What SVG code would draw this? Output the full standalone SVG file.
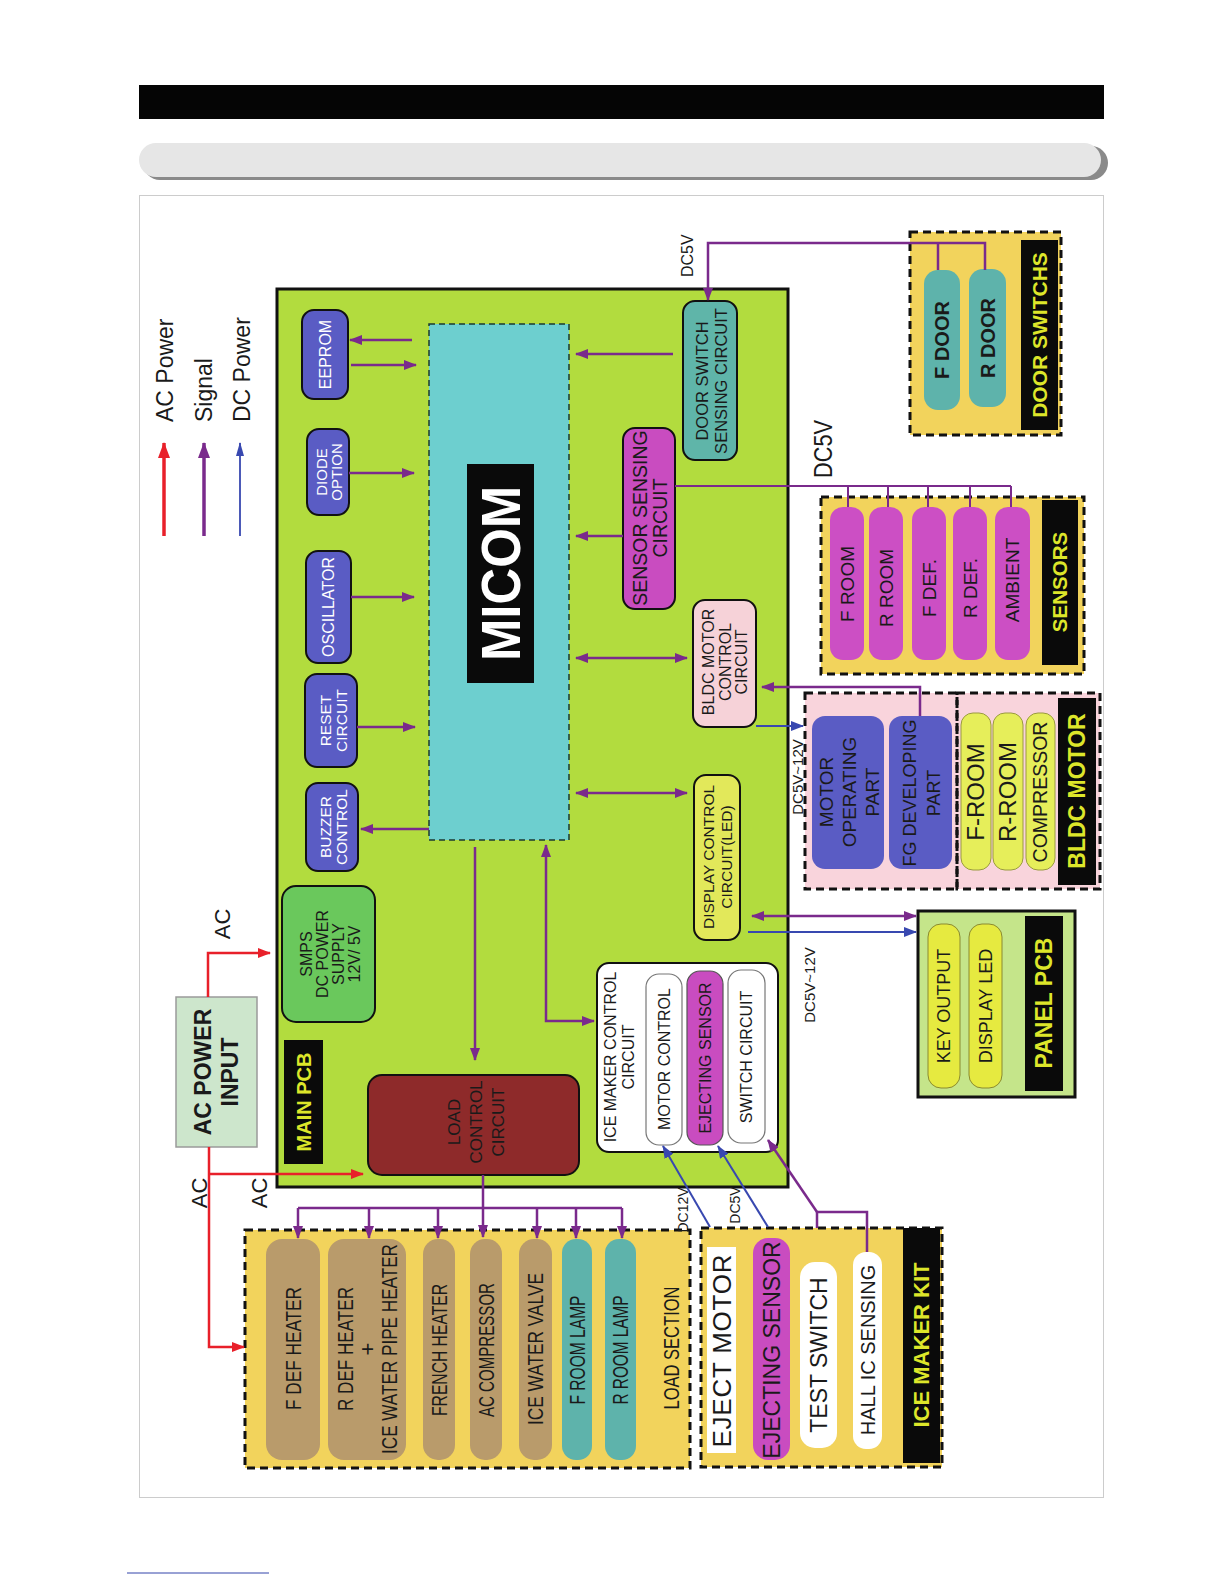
<svg xmlns="http://www.w3.org/2000/svg" width="1224" height="1584" viewBox="0 0 1224 1584">
<style>
.t{font-family:"Liberation Sans",Arial,sans-serif;fill:#1a1a1a}
.w{fill:#ffffff}
.b{font-weight:bold}
.y{fill:#dde62a;font-weight:bold}
.dash{stroke:#111;stroke-width:3;stroke-dasharray:8 5}
.sig{stroke:#7a2a8c;stroke-width:2.5;fill:none}
.sigt{stroke:#7a2a8c;stroke-width:2;fill:none}
.dc{stroke:#3848b0;stroke-width:2;fill:none}
.ac{stroke:#e8202a;stroke-width:2.5;fill:none}
.mod{fill:#5a5cc4;stroke:#111;stroke-width:2}
.pill{stroke:none}
</style>
<defs>
<marker id="ap" viewBox="0 0 13 10" refX="12" refY="5" markerWidth="13" markerHeight="10" markerUnits="userSpaceOnUse" orient="auto-start-reverse"><path d="M0,0 L13,5 L0,10 z" fill="#7a2a8c"/></marker>
<marker id="ab" viewBox="0 0 13 10" refX="12" refY="5" markerWidth="13" markerHeight="10" markerUnits="userSpaceOnUse" orient="auto-start-reverse"><path d="M0,0 L13,5 L0,10 z" fill="#3848b0"/></marker>
<marker id="ar" viewBox="0 0 13 10" refX="12" refY="5" markerWidth="13" markerHeight="10" markerUnits="userSpaceOnUse" orient="auto-start-reverse"><path d="M0,0 L13,5 L0,10 z" fill="#e8202a"/></marker>
<marker id="lr" viewBox="0 0 16 12" refX="15" refY="6" markerWidth="16" markerHeight="12" markerUnits="userSpaceOnUse" orient="auto"><path d="M0,0 L16,6 L0,12 z" fill="#e8202a"/></marker>
<marker id="lp" viewBox="0 0 16 12" refX="15" refY="6" markerWidth="16" markerHeight="12" markerUnits="userSpaceOnUse" orient="auto"><path d="M0,0 L16,6 L0,12 z" fill="#7a2a8c"/></marker>
<marker id="lb" viewBox="0 0 14 8" refX="13" refY="4" markerWidth="14" markerHeight="8" markerUnits="userSpaceOnUse" orient="auto"><path d="M0,0 L14,4 L0,8 z" fill="#3848b0"/></marker>
</defs>

<!-- page header -->
<rect x="139" y="85" width="965" height="34" fill="#050505"/>
<rect x="143" y="146" width="965" height="34" rx="17" fill="#8a8a8a"/>
<rect x="139" y="143" width="962" height="34" rx="17" fill="#e6e6e6"/>
<rect x="139.5" y="195.5" width="964" height="1302" fill="none" stroke="#cccccc" stroke-width="1"/>
<line x1="127" y1="1573" x2="269" y2="1573" stroke="#3344aa" stroke-width="1"/>

<!-- legend -->
<g id="legend">
<line x1="164" y1="536" x2="164" y2="443" stroke="#e8202a" stroke-width="3.5" marker-end="url(#lr)"/>
<line x1="204" y1="536" x2="204" y2="443" stroke="#7a2a8c" stroke-width="3.5" marker-end="url(#lp)"/>
<line x1="240" y1="536" x2="240" y2="443" stroke="#3848b0" stroke-width="1.8" marker-end="url(#lb)"/>
<text class="t" font-size="23" transform="translate(173,422) rotate(-90)">AC  Power</text>
<text class="t" font-size="23" transform="translate(212,422) rotate(-90)">Signal</text>
<text class="t" font-size="23" transform="translate(250,422) rotate(-90)">DC  Power</text>
</g>

<!-- main pcb -->
<g id="main-pcb">
<rect x="277" y="289" width="511" height="898" fill="#b2dc3e" stroke="#111" stroke-width="3"/>
<rect x="284" y="1040" width="39" height="124" fill="#0a0a0a"/>
<text class="t y" font-size="20" text-anchor="middle" transform="translate(303.5,1102) rotate(-90)" dy="7">MAIN PCB</text>
</g>

<g id="micom">
<rect x="429" y="324" width="140" height="516" fill="#6dcfcf" stroke="#1a3a30" stroke-width="1.5" stroke-dasharray="6 4"/>
<rect x="467" y="464" width="67" height="219" fill="#0a0a0a"/>
<text class="t w b" font-size="56" text-anchor="middle" textLength="175" lengthAdjust="spacingAndGlyphs" transform="translate(500.5,573.5) rotate(-90)" dy="19.6">MICOM</text>
</g>

<g id="eeprom">
<rect class="mod" x="302" y="310" width="46" height="89" rx="12"/>
<text class="t w" font-size="16" text-anchor="middle" transform="translate(325,354.5) rotate(-90)" dy="5.6">EEPROM</text>
</g>
<g id="diode-option">
<rect class="mod" x="307" y="429" width="42" height="86" rx="12"/>
<text class="t w" font-size="15" text-anchor="middle" transform="translate(329,472) rotate(-90)"><tspan x="0" dy="-2.5">DIODE</tspan><tspan x="0" dy="15.5">OPTION</tspan></text>
</g>
<g id="oscillator">
<rect class="mod" x="306" y="551" width="45" height="112" rx="12"/>
<text class="t w" font-size="16" text-anchor="middle" transform="translate(328.5,607) rotate(-90)" dy="5.6">OSCILLATOR</text>
</g>
<g id="reset-circuit">
<rect class="mod" x="305" y="674" width="52" height="93" rx="12"/>
<text class="t w" font-size="15.5" text-anchor="middle" transform="translate(334,720.5) rotate(-90)"><tspan x="0" dy="-2.6">RESET</tspan><tspan x="0" dy="16">CIRCUIT</tspan></text>
</g>
<g id="buzzer-control">
<rect class="mod" x="306" y="783" width="52" height="88" rx="12"/>
<text class="t w" font-size="15.5" text-anchor="middle" transform="translate(334,827) rotate(-90)"><tspan x="0" dy="-2.6">BUZZER</tspan><tspan x="0" dy="16">CONTROL</tspan></text>
</g>

<g id="smps">
<rect x="282" y="886" width="93" height="136" rx="14" fill="#6ac85c" stroke="#111" stroke-width="2"/>
<text class="t" font-size="16" text-anchor="middle" transform="translate(330,954) rotate(-90)"><tspan x="0" dy="-18.4">SMPS</tspan><tspan x="0" dy="16">DC  POWER</tspan><tspan x="0" dy="16">SUPPLY</tspan><tspan x="0" dy="16">12V/  5V</tspan></text>
</g>

<g id="ac-power-input">
<rect x="176" y="997" width="81" height="150" fill="#cde6cc" stroke="#9a9a9a" stroke-width="1.5"/>
<text class="t b" font-size="23" text-anchor="middle" transform="translate(216.5,1072) rotate(-90)"><tspan x="0" dy="-5.5">AC  POWER</tspan><tspan x="0" dy="27">INPUT</tspan></text>
</g>

<g id="load-control">
<rect x="368" y="1075" width="211" height="100" rx="14" fill="#8e2a2a" stroke="#111" stroke-width="2"/>
<text class="t" font-size="17" text-anchor="middle" fill="#1a0505" transform="translate(476,1122) rotate(-90)"><tspan x="0" dy="-16">LOAD</tspan><tspan x="0" dy="22">CONTROL</tspan><tspan x="0" dy="22">CIRCUIT</tspan></text>
</g>

<g id="ice-maker-control">
<rect x="597" y="963" width="181" height="189" rx="12" fill="#ffffff" stroke="#111" stroke-width="2"/>
<text class="t" font-size="16" text-anchor="middle" transform="translate(619,1057) rotate(-90)"><tspan x="0" dy="-3.4">ICE  MAKER  CONTROL</tspan><tspan x="0" dy="18">CIRCUIT</tspan></text>
<rect x="646" y="974" width="36" height="171" rx="13" fill="#ffffff" stroke="#777" stroke-width="1.2"/>
<text class="t" font-size="16" text-anchor="middle" transform="translate(664,1059) rotate(-90)" dy="5.6">MOTOR  CONTROL</text>
<rect x="687" y="971" width="36" height="174" rx="13" fill="#c94cc0" stroke="#555" stroke-width="1.2"/>
<text class="t" font-size="16" text-anchor="middle" fill="#3d1050" transform="translate(705,1058) rotate(-90)" dy="5.6">EJECTING  SENSOR</text>
<rect x="728" y="970" width="37" height="173" rx="13" fill="#ffffff" stroke="#777" stroke-width="1.2"/>
<text class="t" font-size="16" text-anchor="middle" transform="translate(746.5,1057) rotate(-90)" dy="5.6">SWITCH  CIRCUIT</text>
</g>

<g id="display-control">
<rect x="694" y="775" width="46" height="165" rx="12" fill="#e2e85a" stroke="#111" stroke-width="2"/>
<text class="t" font-size="15.5" text-anchor="middle" transform="translate(718,857) rotate(-90)"><tspan x="0" dy="-3.6">DISPLAY  CONTROL</tspan><tspan x="0" dy="18">CIRCUIT(LED)</tspan></text>
</g>

<g id="bldc-control">
<rect x="693" y="600" width="63" height="127" rx="12" fill="#f6d2d8" stroke="#111" stroke-width="2"/>
<text class="t" font-size="16" text-anchor="middle" transform="translate(725,662) rotate(-90)"><tspan x="0" dy="-10.9">BLDC  MOTOR</tspan><tspan x="0" dy="16.5">CONTROL</tspan><tspan x="0" dy="16.5">CIRCUIT</tspan></text>
</g>

<g id="sensor-sensing">
<rect x="623" y="428" width="52" height="181" rx="12" fill="#c94cc0" stroke="#111" stroke-width="2"/>
<text class="t" font-size="19.5" text-anchor="middle" transform="translate(650,518) rotate(-90)"><tspan x="0" dy="-3.2">SENSOR  SENSING</tspan><tspan x="0" dy="20">CIRCUIT</tspan></text>
</g>

<g id="door-switch-sensing">
<rect x="683" y="301" width="54" height="159" rx="12" fill="#5fb5a9" stroke="#111" stroke-width="2"/>
<text class="t" font-size="16.5" text-anchor="middle" transform="translate(712,381) rotate(-90)"><tspan x="0" dy="-3.7">DOOR  SWITCH</tspan><tspan x="0" dy="19">SENSING  CIRCUIT</tspan></text>
</g>

<!-- door switches -->
<g id="door-switchs">
<rect class="dash" x="910" y="232" width="151" height="203" fill="#f2d35c"/>
<rect x="1021" y="240" width="37" height="190" fill="#0a0a0a"/>
<text class="t y" font-size="21" text-anchor="middle" transform="translate(1039.5,335) rotate(-90)" dy="7.4">DOOR  SWITCHS</text>
<rect class="pill" x="924" y="270" width="36" height="140" rx="14" fill="#5eb3ab"/>
<text class="t b" font-size="20" text-anchor="middle" transform="translate(942,340) rotate(-90)" dy="7">F  DOOR</text>
<rect class="pill" x="969" y="269" width="37" height="138" rx="14" fill="#5eb3ab"/>
<text class="t b" font-size="20" text-anchor="middle" transform="translate(987.5,338) rotate(-90)" dy="7">R  DOOR</text>
</g>

<!-- sensors -->
<g id="sensors">
<rect class="dash" x="821" y="497" width="263" height="177" fill="#f2d35c"/>
<rect x="1042" y="500" width="36" height="165" fill="#0a0a0a"/>
<text class="t y" font-size="20.5" text-anchor="middle" transform="translate(1060,582) rotate(-90)" dy="7.2">SENSORS</text>
<rect class="pill" x="830" y="507" width="34" height="153" rx="13" fill="#cc4fc4"/>
<rect class="pill" x="869" y="507" width="34" height="153" rx="13" fill="#cc4fc4"/>
<rect class="pill" x="912" y="507" width="34" height="153" rx="13" fill="#cc4fc4"/>
<rect class="pill" x="953" y="507" width="34" height="153" rx="13" fill="#cc4fc4"/>
<rect class="pill" x="995" y="507" width="35" height="153" rx="13" fill="#cc4fc4"/>
<text class="t" font-size="19" text-anchor="middle" transform="translate(847,584) rotate(-90)" dy="6.6">F  ROOM</text>
<text class="t" font-size="19" text-anchor="middle" transform="translate(886,588) rotate(-90)" dy="6.6">R  ROOM</text>
<text class="t" font-size="19" text-anchor="middle" transform="translate(929,588) rotate(-90)" dy="6.6">F  DEF.</text>
<text class="t" font-size="19" text-anchor="middle" transform="translate(970,588) rotate(-90)" dy="6.6">R  DEF.</text>
<text class="t" font-size="19" text-anchor="middle" transform="translate(1012.5,580) rotate(-90)" dy="6.6">AMBIENT</text>
</g>

<!-- bldc motor -->
<g id="bldc-motor">
<rect x="805" y="693" width="295" height="196" fill="#f9d4dc"/>
<rect class="dash" x="805" y="693" width="152" height="196" fill="none"/>
<rect class="dash" x="957" y="693" width="143" height="196" fill="none"/>
<rect x="1058" y="698" width="38" height="187" fill="#0a0a0a"/>
<text class="t y" font-size="23" text-anchor="middle" transform="translate(1077,791) rotate(-90)" dy="8">BLDC  MOTOR</text>
<rect x="812" y="716" width="72" height="153" rx="13" fill="#5a5cc4"/>
<text class="t" font-size="19" text-anchor="middle" fill="#15152a" transform="translate(849.5,792) rotate(-90)"><tspan x="0" dy="-16.4">MOTOR</tspan><tspan x="0" dy="23">OPERATING</tspan><tspan x="0" dy="23">PART</tspan></text>
<rect x="889" y="716" width="63" height="153" rx="13" fill="#5a5cc4"/>
<text class="t" font-size="18" text-anchor="middle" fill="#15152a" transform="translate(922,793) rotate(-90)"><tspan x="0" dy="-5.7">FG  DEVELOPING</tspan><tspan x="0" dy="24">PART</tspan></text>
<rect x="961" y="713" width="30" height="157" rx="12" fill="#e6ee5a" stroke="#9a9a40" stroke-width="1"/>
<rect x="993" y="713" width="30" height="157" rx="12" fill="#e6ee5a" stroke="#9a9a40" stroke-width="1"/>
<rect x="1026" y="713" width="29" height="157" rx="12" fill="#e6ee5a" stroke="#9a9a40" stroke-width="1"/>
<text class="t" font-size="24" text-anchor="middle" transform="translate(976,792) rotate(-90)" dy="8.4">F-ROOM</text>
<text class="t" font-size="24" text-anchor="middle" transform="translate(1008,792) rotate(-90)" dy="8.4">R-ROOM</text>
<text class="t" font-size="19.5" text-anchor="middle" transform="translate(1040.5,792) rotate(-90)" dy="6.8">COMPRESSOR</text>
</g>

<!-- panel pcb -->
<g id="panel-pcb">
<rect x="918" y="911" width="157" height="186" fill="#c5e58a" stroke="#111" stroke-width="3"/>
<rect x="1025" y="916" width="38" height="175" fill="#0a0a0a"/>
<text class="t y" font-size="23" text-anchor="middle" transform="translate(1044,1003) rotate(-90)" dy="8">PANEL  PCB</text>
<rect x="928" y="924" width="32" height="164" rx="13" fill="#e6ea40" stroke="#8a8a30" stroke-width="1"/>
<rect x="969" y="924" width="33" height="164" rx="13" fill="#e6ea40" stroke="#8a8a30" stroke-width="1"/>
<text class="t" font-size="18" text-anchor="middle" transform="translate(944,1006) rotate(-90)" dy="6.3">KEY  OUTPUT</text>
<text class="t" font-size="18" text-anchor="middle" transform="translate(985.5,1006) rotate(-90)" dy="6.3">DISPLAY  LED</text>
</g>

<!-- ice maker kit -->
<g id="ice-maker-kit">
<rect class="dash" x="701" y="1228" width="241" height="239" fill="#f2d35c"/>
<rect x="903" y="1228" width="37" height="235" fill="#0a0a0a"/>
<text class="t y" font-size="22" text-anchor="middle" transform="translate(921.5,1345) rotate(-90)" dy="7.7">ICE  MAKER  KIT</text>
<rect x="707" y="1247" width="29" height="206" fill="#ffffff"/>
<text class="t" font-size="26" text-anchor="middle" textLength="193" transform="translate(721.5,1351) rotate(-90)" dy="9.2">EJECT MOTOR</text>
<rect x="753" y="1238" width="37" height="222" rx="15" fill="#c94cc0"/>
<text class="t" font-size="23" text-anchor="middle" fill="#3d1050" transform="translate(771.5,1350) rotate(-90)" dy="8">EJECTING SENSOR</text>
<rect x="800" y="1262" width="37" height="186" rx="15" fill="#ffffff"/>
<text class="t" font-size="23" text-anchor="middle" transform="translate(818.5,1355) rotate(-90)" dy="8">TEST SWITCH</text>
<rect x="853" y="1252" width="29" height="197" rx="13" fill="#ffffff"/>
<text class="t" font-size="20" text-anchor="middle" transform="translate(867.5,1350) rotate(-90)" dy="7">HALL  IC  SENSING</text>
</g>

<!-- load section -->
<g id="load-section">
<rect class="dash" x="245" y="1230" width="445" height="238" fill="#f2d35c"/>
<rect x="266" y="1239" width="54" height="221" rx="16" fill="#b99b6b"/>
<rect x="328" y="1239" width="78" height="221" rx="16" fill="#b99b6b"/>
<rect x="423" y="1239" width="32" height="221" rx="15" fill="#b99b6b"/>
<rect x="470" y="1239" width="32" height="221" rx="15" fill="#b99b6b"/>
<rect x="519" y="1239" width="33" height="221" rx="15" fill="#b99b6b"/>
<rect x="562" y="1239" width="30" height="221" rx="14" fill="#5eb3ab"/>
<rect x="605" y="1239" width="31" height="221" rx="14" fill="#5eb3ab"/>
<text class="t" font-size="22" text-anchor="middle" textLength="123" lengthAdjust="spacingAndGlyphs" transform="translate(293,1348.5) rotate(-90)" dy="7.7">F DEF HEATER</text>
<text class="t" font-size="22" text-anchor="middle" transform="translate(367,1349) rotate(-90)"><tspan x="0" dy="-14.3" textLength="124" lengthAdjust="spacingAndGlyphs">R DEF HEATER</tspan><tspan x="0" dy="22">+</tspan><tspan x="0" dy="22" textLength="210" lengthAdjust="spacingAndGlyphs">ICE WATER PIPE HEATER</tspan></text>
<text class="t" font-size="22" text-anchor="middle" textLength="132" lengthAdjust="spacingAndGlyphs" transform="translate(439,1350) rotate(-90)" dy="7.7">FRENCH HEATER</text>
<text class="t" font-size="22" text-anchor="middle" textLength="134" lengthAdjust="spacingAndGlyphs" transform="translate(486,1350) rotate(-90)" dy="7.7">AC COMPRESSOR</text>
<text class="t" font-size="22" text-anchor="middle" textLength="152" lengthAdjust="spacingAndGlyphs" transform="translate(535.5,1349) rotate(-90)" dy="7.7">ICE WATER VALVE</text>
<text class="t" font-size="22" text-anchor="middle" textLength="109" lengthAdjust="spacingAndGlyphs" transform="translate(577,1350) rotate(-90)" dy="7.7">F ROOM LAMP</text>
<text class="t" font-size="22" text-anchor="middle" textLength="109" lengthAdjust="spacingAndGlyphs" transform="translate(620.5,1350) rotate(-90)" dy="7.7">R ROOM LAMP</text>
<text class="t" font-size="22" text-anchor="middle" textLength="123" lengthAdjust="spacingAndGlyphs" transform="translate(671.5,1348) rotate(-90)" dy="7.7">LOAD SECTION</text>
</g>

<!-- connectors -->
<g id="connectors">
<line class="sig" x1="412" y1="340" x2="350" y2="340" marker-end="url(#ap)"/>
<line class="sig" x1="351" y1="365" x2="416" y2="365" marker-end="url(#ap)"/>
<line class="sig" x1="349" y1="473" x2="414" y2="473" marker-end="url(#ap)"/>
<line class="sig" x1="351" y1="597" x2="414" y2="597" marker-end="url(#ap)"/>
<line class="sig" x1="357" y1="727" x2="415" y2="727" marker-end="url(#ap)"/>
<line class="sig" x1="429" y1="829" x2="361" y2="829" marker-end="url(#ap)"/>
<line class="sig" x1="673" y1="354" x2="576" y2="354" marker-end="url(#ap)"/>
<line class="sig" x1="623" y1="536" x2="576" y2="536" marker-end="url(#ap)"/>
<line class="sig" x1="576" y1="658" x2="687" y2="658" marker-start="url(#ap)" marker-end="url(#ap)"/>
<line class="sig" x1="576" y1="793" x2="687" y2="793" marker-start="url(#ap)" marker-end="url(#ap)"/>
<line class="sig" x1="475" y1="847" x2="475" y2="1060" marker-end="url(#ap)"/>
<path class="sig" d="M546,845 V1021 H594" marker-start="url(#ap)" marker-end="url(#ap)"/>
<path class="sig" d="M985,270 V243 H708 V300" marker-end="url(#ap)"/>
<path class="sig" d="M938,243 V270"/>
<path class="sigt" d="M675,486 H1011 M848,486 V507 M888,486 V507 M928,486 V507 M970,486 V507 M1011,486 V507"/>
<path class="sig" d="M920,716 V687 H762" marker-end="url(#ap)"/>
<line class="sig" x1="752" y1="916" x2="916" y2="916" marker-start="url(#ap)" marker-end="url(#ap)"/>
<line class="sig" x1="483" y1="1175" x2="483" y2="1237" marker-end="url(#ap)"/>
<path class="sig" d="M298,1208 H622"/>
<line class="sig" x1="298" y1="1208" x2="298" y2="1238" marker-end="url(#ap)"/>
<line class="sig" x1="369" y1="1208" x2="369" y2="1238" marker-end="url(#ap)"/>
<line class="sig" x1="438" y1="1208" x2="438" y2="1238" marker-end="url(#ap)"/>
<line class="sig" x1="537" y1="1208" x2="537" y2="1238" marker-end="url(#ap)"/>
<line class="sig" x1="576" y1="1208" x2="576" y2="1238" marker-end="url(#ap)"/>
<line class="sig" x1="622" y1="1208" x2="622" y2="1238" marker-end="url(#ap)"/>
<path class="sig" d="M867,1252 V1212 H817 V1228"/>
<line class="sig" x1="817" y1="1212" x2="768" y2="1140" marker-end="url(#ap)"/>
<line class="dc" x1="756" y1="726" x2="803" y2="726" marker-end="url(#ab)"/>
<line class="dc" x1="748" y1="932" x2="916" y2="932" marker-end="url(#ab)"/>
<line class="dc" x1="710" y1="1227" x2="663" y2="1146" marker-end="url(#ab)"/>
<line class="dc" x1="768" y1="1227" x2="718" y2="1146" marker-end="url(#ab)"/>
<path class="ac" d="M208,997 V953 H270" marker-end="url(#ar)"/>
<path class="ac" d="M209,1147 V1347 H244" marker-end="url(#ar)"/>
<path class="ac" d="M209,1174 H363" marker-end="url(#ar)"/>
</g>

<!-- connector labels -->
<g id="labels">
<text class="t" font-size="16" text-anchor="start" transform="translate(693,277) rotate(-90)">DC5V</text>
<text class="t" font-size="26" text-anchor="middle" textLength="58" lengthAdjust="spacingAndGlyphs" transform="translate(832,449) rotate(-90)">DC5V</text>
<text class="t" font-size="15" text-anchor="middle" transform="translate(803,777) rotate(-90)">DC5V~12V</text>
<text class="t" font-size="15" text-anchor="middle" transform="translate(815,985) rotate(-90)">DC5V~12V</text>
<text class="t" font-size="22" text-anchor="middle" transform="translate(230,924) rotate(-90)">AC</text>
<text class="t" font-size="22" text-anchor="middle" transform="translate(207,1193) rotate(-90)">AC</text>
<text class="t" font-size="22" text-anchor="middle" transform="translate(267,1193) rotate(-90)">AC</text>
<text class="t" font-size="14" text-anchor="middle" transform="translate(688,1210) rotate(-90)">DC12V</text>
<text class="t" font-size="14" text-anchor="middle" transform="translate(740,1205) rotate(-90)">DC5V</text>
</g>
</svg>
